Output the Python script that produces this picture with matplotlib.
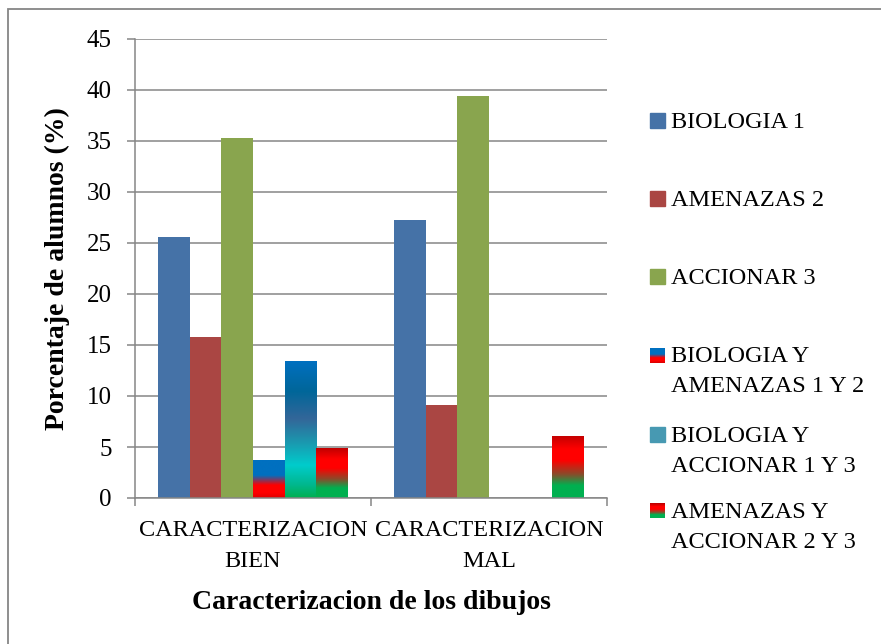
import matplotlib.pyplot as plt
import numpy as np
from matplotlib.colors import LinearSegmentedColormap
from matplotlib.patches import Rectangle

plt.rcParams['font.family'] = ['Liberation Serif', 'DejaVu Serif']

categories = ['CARACTERIZACION\nBIEN', 'CARACTERIZACION\nMAL']
series_names = ['BIOLOGIA 1', 'AMENAZAS 2', 'ACCIONAR 3',
                'BIOLOGIA Y\nAMENAZAS 1 Y 2', 'BIOLOGIA Y\nACCIONAR 1 Y 3',
                'AMENAZAS Y\nACCIONAR 2 Y 3']
biologia = [25.6, 27.3]
amenazas = [15.8, 9.1]
accionar = [35.3, 39.4]
bio_amen = [3.7, 0]
bio_acc = [13.4, 0]
amen_acc = [4.9, 6.1]
series = [biologia, amenazas, accionar, bio_amen, bio_acc, amen_acc]

# solid colours, or gradient stops (top -> bottom) for the mixed series
solid = ['#4572A7', '#AA4643', '#89A54E', None, None, None]
grads = [None, None, None,
         [(0, '#0070C0'), (0.4, '#0070C0'), (0.66, '#FF0000'), (0.86, '#FF0000'), (1, '#E00000')],
         [(0, '#0070C0'), (0.22, '#006699'), (0.42, '#336699'), (0.6, '#1A9AB0'),
          (0.76, '#00CCCC'), (0.9, '#00B890'), (1, '#00B050')],
         [(0, '#C00000'), (0.22, '#FF0000'), (0.4, '#FF0000'), (0.62, '#8B4A2A'),
          (0.8, '#00B050'), (1, '#00B050')]]
legend_solid = ['#4572A7', '#AA4643', '#89A54E', None, '#4799B2', None]

W, H = 881, 644
FS = 17.5
grey = '#868686'

fig = plt.figure(figsize=(W / 100, H / 100), dpi=100)
ax = fig.add_axes([135 / W, 1 - 498 / H, (607 - 135) / W, (498 - 39) / H])

x = np.arange(len(categories))
bw = 0.1335
grad = np.linspace(0, 1, 256).reshape(-1, 1)
for i, vals in enumerate(series):
    off = (i - 2.5) * bw
    if grads[i] is None:
        ax.bar(x + off, vals, bw, color=solid[i], zorder=2, linewidth=0)
    else:
        cmap = LinearSegmentedColormap.from_list('g%d' % i, grads[i])
        bars = ax.bar(x + off, vals, bw, facecolor='none', linewidth=0, zorder=2)
        for b in bars:
            if b.get_height() <= 0:
                continue
            im = ax.imshow(grad, cmap=cmap, aspect='auto', origin='upper',
                           extent=[b.get_x(), b.get_x() + b.get_width(), 0, b.get_height()],
                           zorder=2, interpolation='bilinear')
            im.set_clip_path(b)

ax.set_xlim(-0.5, 1.5)
ax.set_ylim(0, 45)
ax.set_yticks(np.arange(0, 46, 5))
ax.set_xticks([-0.5, 0.5, 1.5])
ax.set_xticklabels([])
ax.set_xticks(x, minor=True)
ax.set_xticklabels(categories, minor=True, fontsize=FS, linespacing=1.6)
ax.tick_params(axis='x', which='major', length=5.8, width=1.1, color=grey)
ax.tick_params(axis='x', which='minor', length=0, pad=16)
ax.tick_params(axis='y', length=5.8, width=1.1, color=grey, labelsize=18, pad=11)
ax.yaxis.grid(True, color=grey, linewidth=1.1)
ax.set_axisbelow(True)
for s in ['top', 'right']:
    ax.spines[s].set_visible(False)
for s in ['left', 'bottom']:
    ax.spines[s].set_color(grey)
    ax.spines[s].set_linewidth(1.1)

ax.set_ylabel('Porcentaje de alumnos (%)', fontsize=20, fontweight='bold')
ax.yaxis.set_label_coords((70 - 135) / (607 - 135), 0.5)
ax.set_xlabel('Caracterizacion de los dibujos', fontsize=20, fontweight='bold')
ax.xaxis.set_label_coords(0.5, -(590 - 498) / (498 - 39))

# legend, laid out as in the original
leg_top = [111, 189, 267, 345, 425, 500]
for i, name in enumerate(series_names):
    y0 = leg_top[i]
    if legend_solid[i] is not None:
        fig.add_artist(Rectangle((650 / W, 1 - (y0 + 17) / H), 15 / W, 15 / H,
                                 transform=fig.transFigure, color=legend_solid[i]))
    else:
        cmap = LinearSegmentedColormap.from_list('l%d' % i, grads[i])
        n = 15
        for k in range(n):
            fig.add_artist(Rectangle((650 / W, 1 - (y0 + 3 + k + 1) / H), 15 / W, 1.05 / H,
                                     transform=fig.transFigure, color=cmap(k / (n - 1)),
                                     linewidth=0))
    for j, line in enumerate(name.split('\n')):
        fig.text(671 / W, 1 - (y0 + 17.5 + 30 * j) / H, line, fontsize=FS,
                 va='baseline', ha='left')

# outer frame
fig.add_artist(Rectangle((8 / W, -0.1), 1.2, 1.1 - 9 / H, transform=fig.transFigure,
                         fill=False, edgecolor=grey, linewidth=1.3, clip_on=False))

fig.savefig('out.png', dpi=100)
